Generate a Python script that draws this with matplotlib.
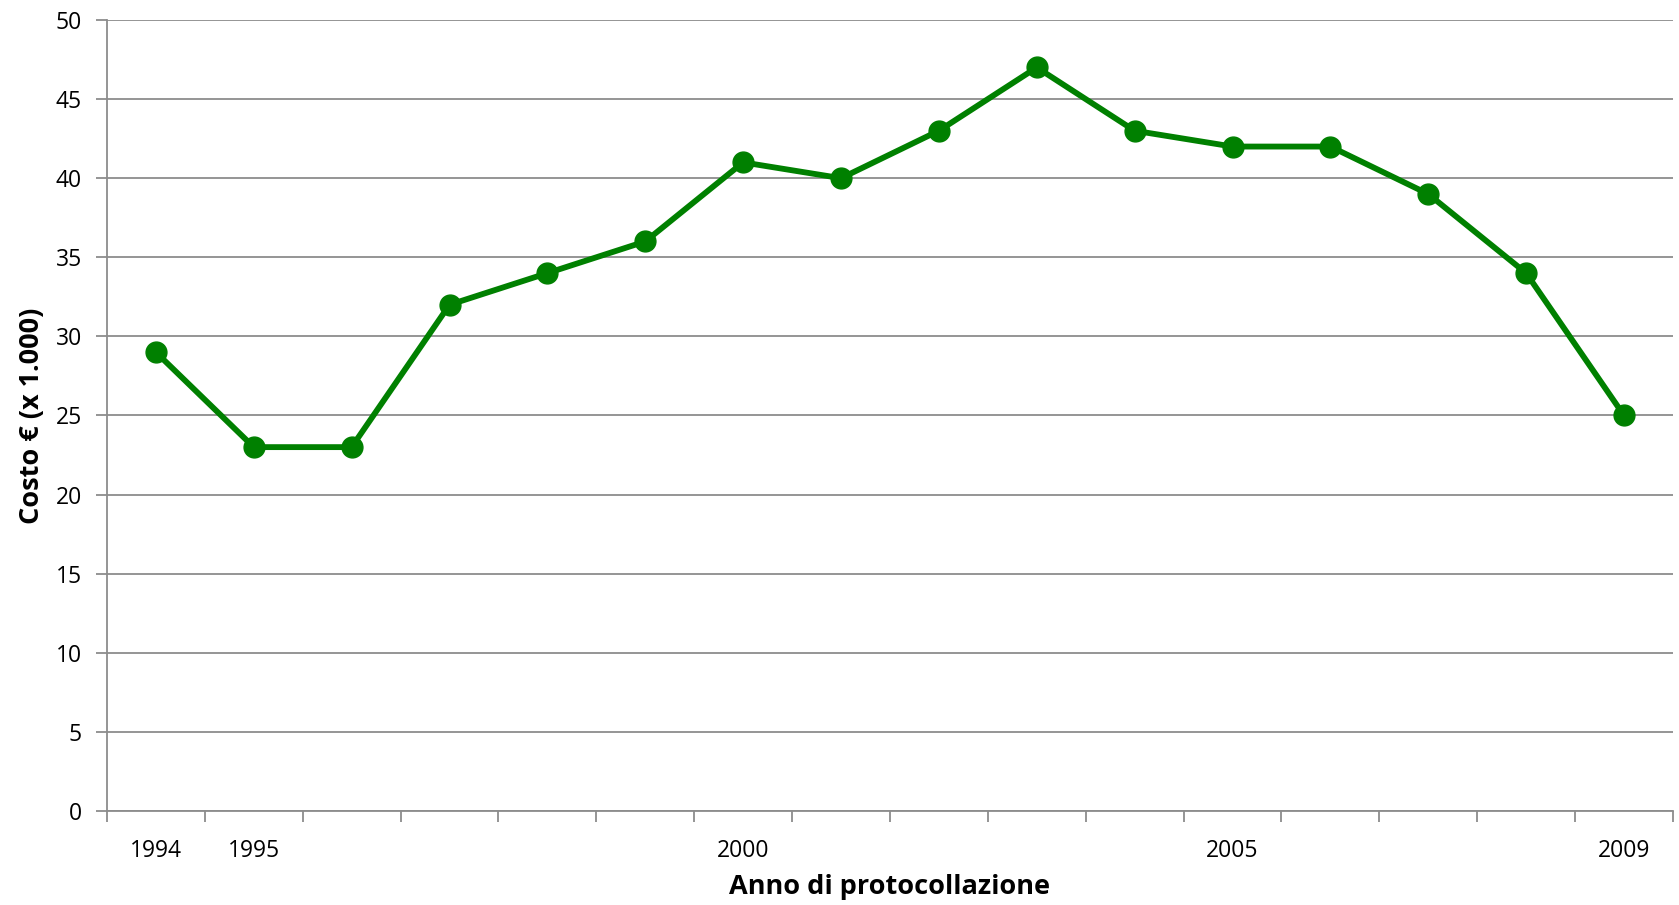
import numpy as np
import matplotlib.pyplot as plt

plt.rcParams['font.family'] = ['Open Sans', 'DejaVu Sans']

years = [1994, 1995, 1996, 1997, 1998, 1999, 2000, 2001,
         2002, 2003, 2004, 2005, 2006, 2007, 2008, 2009]
costs = [29, 23, 23, 32, 34, 36, 41, 40, 43, 47, 43, 42, 42, 39, 34, 25]
shown_years = [1994, 1995, 2000, 2005, 2009]

grey = '#8c8c8c'
green = '#008000'

fig = plt.figure(figsize=(16.79, 9.05), dpi=100)
ax = fig.add_axes([0.0637, 0.1039, 0.9327, 0.874])

x = np.arange(len(years))
ax.plot(x, costs, color=green, lw=4.2, marker='o', ms=15, zorder=3)

ax.set_xlim(-0.5, len(years) - 0.5)
ax.set_ylim(0, 50)
ax.set_yticks(np.arange(0, 51, 5))
ax.grid(axis='y', color=grey, lw=1.3)
ax.set_axisbelow(True)

# category boundaries carry the tick marks, centres carry the labels
ax.set_xticks(np.arange(-0.5, len(years)), labels=[])
ax.set_xticks(x, labels=[str(y) if y in shown_years else '' for y in years], minor=True)
ax.tick_params(axis='x', which='major', length=8, width=1.3, color=grey, direction='out')
ax.tick_params(axis='x', which='minor', length=0, pad=20, labelsize=16.5)
ax.tick_params(axis='y', length=8, width=1.3, color=grey, pad=10, labelsize=16.5)

for s in ['top', 'right']:
    ax.spines[s].set_visible(False)
for s in ['left', 'bottom']:
    ax.spines[s].set_color(grey)
    ax.spines[s].set_linewidth(1.3)

ax.set_xlabel('Anno di protocollazione', fontsize=19.5, fontweight='bold', labelpad=8)
ax.set_ylabel('Costo € (x 1.000)', fontsize=19.5, fontweight='bold', labelpad=8)

fig.savefig('out.png', dpi=100)
